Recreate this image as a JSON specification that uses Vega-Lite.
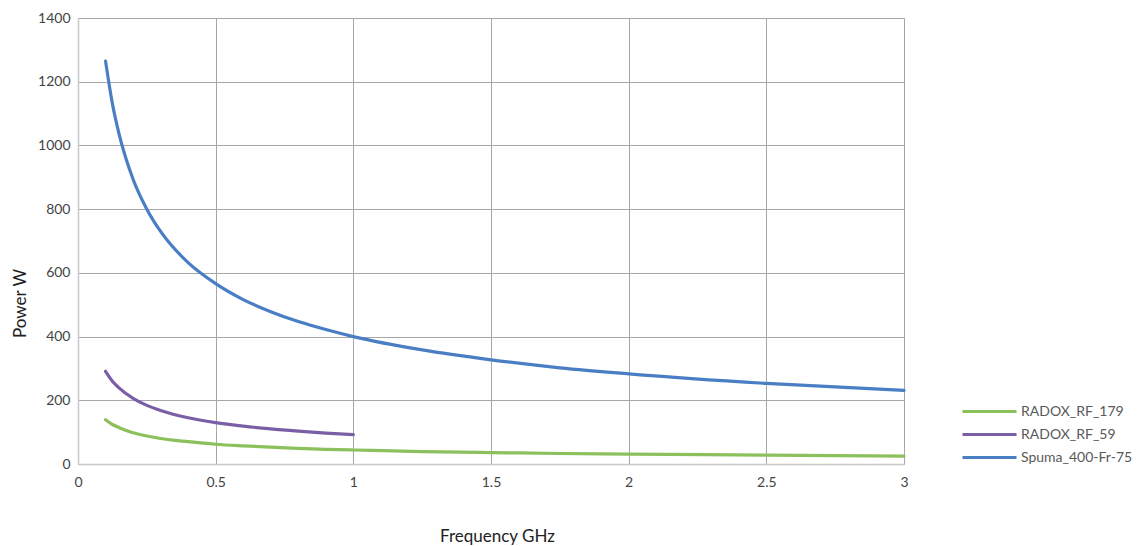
{
  "$schema": "https://vega.github.io/schema/vega-lite/v6.json",
  "width": 826,
  "height": 446,
  "autosize": "none",
  "padding": {"left": 78, "top": 18, "right": 238, "bottom": 82},
  "background": "white",
  "config": {
    "font": "Lato",
    "view": {"stroke": null},
    "axis": {"labelFont": "Lato", "titleFont": "Lato"}
  },
  "datasets": {
    "curves": [
      {"f": 0.1, "p": 1265, "s": "Spuma_400-Fr-75"},
      {"f": 0.125, "p": 1131, "s": "Spuma_400-Fr-75"},
      {"f": 0.15, "p": 1033, "s": "Spuma_400-Fr-75"},
      {"f": 0.2, "p": 894, "s": "Spuma_400-Fr-75"},
      {"f": 0.25, "p": 800, "s": "Spuma_400-Fr-75"},
      {"f": 0.3, "p": 730, "s": "Spuma_400-Fr-75"},
      {"f": 0.4, "p": 632, "s": "Spuma_400-Fr-75"},
      {"f": 0.5, "p": 566, "s": "Spuma_400-Fr-75"},
      {"f": 0.6, "p": 516, "s": "Spuma_400-Fr-75"},
      {"f": 0.7, "p": 478, "s": "Spuma_400-Fr-75"},
      {"f": 0.8, "p": 447, "s": "Spuma_400-Fr-75"},
      {"f": 0.9, "p": 422, "s": "Spuma_400-Fr-75"},
      {"f": 1.0, "p": 400, "s": "Spuma_400-Fr-75"},
      {"f": 1.25, "p": 358, "s": "Spuma_400-Fr-75"},
      {"f": 1.5, "p": 327, "s": "Spuma_400-Fr-75"},
      {"f": 1.75, "p": 302, "s": "Spuma_400-Fr-75"},
      {"f": 2.0, "p": 283, "s": "Spuma_400-Fr-75"},
      {"f": 2.5, "p": 253, "s": "Spuma_400-Fr-75"},
      {"f": 3.0, "p": 231, "s": "Spuma_400-Fr-75"},
      {"f": 0.1, "p": 291, "s": "RADOX_RF_59"},
      {"f": 0.125, "p": 260, "s": "RADOX_RF_59"},
      {"f": 0.15, "p": 238, "s": "RADOX_RF_59"},
      {"f": 0.2, "p": 206, "s": "RADOX_RF_59"},
      {"f": 0.25, "p": 184, "s": "RADOX_RF_59"},
      {"f": 0.3, "p": 168, "s": "RADOX_RF_59"},
      {"f": 0.4, "p": 145, "s": "RADOX_RF_59"},
      {"f": 0.5, "p": 130, "s": "RADOX_RF_59"},
      {"f": 0.6, "p": 119, "s": "RADOX_RF_59"},
      {"f": 0.7, "p": 110, "s": "RADOX_RF_59"},
      {"f": 0.8, "p": 103, "s": "RADOX_RF_59"},
      {"f": 0.9, "p": 97, "s": "RADOX_RF_59"},
      {"f": 1.0, "p": 92, "s": "RADOX_RF_59"},
      {"f": 0.1, "p": 139, "s": "RADOX_RF_179"},
      {"f": 0.125, "p": 124, "s": "RADOX_RF_179"},
      {"f": 0.15, "p": 114, "s": "RADOX_RF_179"},
      {"f": 0.2, "p": 98, "s": "RADOX_RF_179"},
      {"f": 0.25, "p": 88, "s": "RADOX_RF_179"},
      {"f": 0.3, "p": 80, "s": "RADOX_RF_179"},
      {"f": 0.4, "p": 70, "s": "RADOX_RF_179"},
      {"f": 0.5, "p": 62, "s": "RADOX_RF_179"},
      {"f": 0.6, "p": 57, "s": "RADOX_RF_179"},
      {"f": 0.7, "p": 53, "s": "RADOX_RF_179"},
      {"f": 0.8, "p": 49, "s": "RADOX_RF_179"},
      {"f": 0.9, "p": 46, "s": "RADOX_RF_179"},
      {"f": 1.0, "p": 44, "s": "RADOX_RF_179"},
      {"f": 1.25, "p": 39, "s": "RADOX_RF_179"},
      {"f": 1.5, "p": 36, "s": "RADOX_RF_179"},
      {"f": 1.75, "p": 33, "s": "RADOX_RF_179"},
      {"f": 2.0, "p": 31, "s": "RADOX_RF_179"},
      {"f": 2.5, "p": 28, "s": "RADOX_RF_179"},
      {"f": 3.0, "p": 25, "s": "RADOX_RF_179"}
    ]
  },
  "data": {"name": "curves"},
  "mark": {"type": "line", "strokeWidth": 3.2, "interpolate": "monotone", "strokeCap": "round"},
  "encoding": {
    "x": {
      "field": "f",
      "type": "quantitative",
      "scale": {"domain": [0, 3], "nice": false, "zero": true},
      "axis": {
        "values": [0, 0.5, 1, 1.5, 2, 2.5, 3],
        "format": "~g",
        "title": "Frequency GHz",
        "titleFontSize": 17,
        "titleFontWeight": "normal",
        "titleColor": "#222222",
        "titleX": 419,
        "titleY": 72,
        "titleAlign": "center",
        "titleBaseline": "middle",
        "labelFontSize": 14,
        "labelColor": "#444444",
        "labelPadding": 11,
        "ticks": false,
        "domainColor": "#c8c8c8",
        "domainWidth": 1.5,
        "gridColor": "#a6a6a6",
        "gridWidth": 1,
        "labelFlush": false
      }
    },
    "y": {
      "field": "p",
      "type": "quantitative",
      "scale": {"domain": [0, 1400], "nice": false},
      "axis": {
        "values": [0, 200, 400, 600, 800, 1000, 1200, 1400],
        "format": "d",
        "title": "Power W",
        "titleFontSize": 17,
        "titleFontWeight": "normal",
        "titleColor": "#222222",
        "titleAngle": -90,
        "titleX": -58,
        "titleY": 285,
        "titleAlign": "center",
        "titleBaseline": "middle",
        "labelFontSize": 14,
        "labelColor": "#444444",
        "labelPadding": 8,
        "ticks": false,
        "domainColor": "#c8c8c8",
        "domainWidth": 1.5,
        "gridColor": "#a6a6a6",
        "gridWidth": 1
      }
    },
    "color": {
      "field": "s",
      "type": "nominal",
      "scale": {
        "domain": ["RADOX_RF_179", "RADOX_RF_59", "Spuma_400-Fr-75"],
        "range": ["#8cc05c", "#7a5fa6", "#4a7ec4"]
      },
      "legend": {
        "title": null,
        "orient": "none",
        "legendX": 896,
        "legendY": 378,
        "symbolType": "M-2,0H2",
        "symbolSize": 729,
        "symbolStrokeWidth": 3.2,
        "symbolFillColor": "transparent",
        "labelFontSize": 14,
        "labelColor": "#595959",
        "labelOffset": 16,
        "rowPadding": 0
      }
    }
  }
}
